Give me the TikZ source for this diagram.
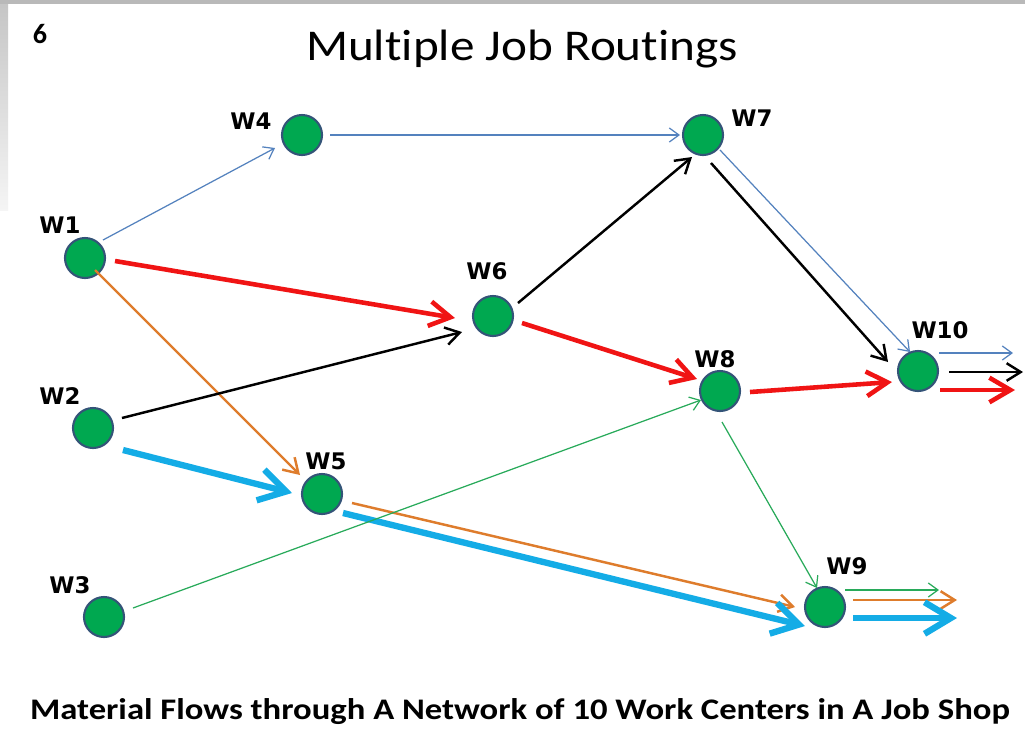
\documentclass[tikz,border=0pt]{standalone}
\usepackage{fontspec}
\setmainfont[Ligatures=NoCommon]{Carlito}
\newfontfamily\wcfont{DejaVu Sans}
\usetikzlibrary{arrows.meta,positioning}

\definecolor{wcgreen}{RGB}{0,168,80}
\definecolor{wcborder}{RGB}{52,84,120}
\definecolor{jobblue}{RGB}{84,130,190}
\definecolor{jobred}{RGB}{240,20,20}
\definecolor{joborange}{RGB}{222,124,44}
\definecolor{jobcyan}{RGB}{20,172,230}
\definecolor{jobgreen}{RGB}{40,170,90}

\tikzstyle{wc} = [circle, draw=wcborder, fill=wcgreen, line width=1.2pt, minimum size=0.8cm, inner sep=0pt]
\tikzstyle{wclabel} = [font=\wcfont\bfseries\fontsize{13}{15}\selectfont, inner sep=0pt]
\tikzstyle{bluejob} = [draw=jobblue, line width=0.7pt, -{Straight Barb[length=5.5pt,width=8pt]}]
\tikzstyle{greenjob} = [draw=jobgreen, line width=0.7pt, -{Straight Barb[length=5.5pt,width=8pt]}]
\tikzstyle{blackjob} = [draw=black, line width=1.4pt, -{Straight Barb[length=8pt,width=10pt]}]
\tikzstyle{orangejob} = [draw=joborange, line width=1.4pt, -{Straight Barb[length=8pt,width=10pt]}]
\tikzstyle{redjob} = [draw=jobred, line width=2.6pt, -{Straight Barb[length=12pt,width=14pt]}]
\tikzstyle{cyanjob} = [draw=jobcyan, line width=3.6pt, -{Straight Barb[length=15pt,width=18pt]}]

\begin{document}
\begin{tikzpicture}[x=0.02cm, y=-0.02cm]
		% Slide frame
		\useasboundingbox (0,0) rectangle (1025,728);
		\fill[white] (0,0) rectangle (1025,728);
		\fill[gray!55] (0,0) rectangle (1025,4);
		\shade[top color=gray!45, bottom color=gray!8] (0,4) rectangle (8,210);
		% Headings
		\node[font=\bfseries\fontsize{16}{18}\selectfont] (num) at (40,34) {6};
		\node[anchor=base, xscale=1.12, font=\fontsize{25}{30}\selectfont] (title) at (522,60) {Multiple Job Routings};
		\node[anchor=base, xscale=1.16, font=\bfseries\fontsize{17}{20}\selectfont] (caption) at (520,719) {Material Flows through A Network of 10 Work Centers in A Job Shop};
		% Nodes
		\node[wc] (W1) at (85,258) {};
		\node[wc] (W2) at (93,428) {};
		\node[wc] (W3) at (104,617) {};
		\node[wc] (W4) at (302,135) {};
		\node[wc] (W5) at (322,494) {};
		\node[wc] (W6) at (493,316) {};
		\node[wc] (W7) at (703,135) {};
		\node[wc] (W8) at (720,391) {};
		\node[wc] (W9) at (825,607) {};
		\node[wc] (W10) at (918,371) {};
		% Labels
		\node[wclabel] (L1) at ([shift={(-25,-33)}]W1.center) {W1};
		\node[wclabel] (L2) at ([shift={(-33,-32)}]W2.center) {W2};
		\node[wclabel] (L3) at ([shift={(-34,-32)}]W3.center) {W3};
		\node[wclabel] (L4) at ([shift={(-51,-14)}]W4.center) {W4};
		\node[wclabel] (L5) at ([shift={(4,-33)}]W5.center) {W5};
		\node[wclabel] (L6) at ([shift={(-6,-45)}]W6.center) {W6};
		\node[wclabel] (L7) at ([shift={(49,-17)}]W7.center) {W7};
		\node[wclabel] (L8) at ([shift={(-5,-32)}]W8.center) {W8};
		\node[wclabel] (L9) at ([shift={(22,-41)}]W9.center) {W9};
		\node[wclabel] (L10) at ([shift={(22,-41)}]W10.center) {W10};
		% Exits
		\coordinate (X10a) at ([shift={(95,-18)}]W10.center);
		\coordinate (X10b) at ([shift={(105,1)}]W10.center);
		\coordinate (X10c) at ([shift={(97,19)}]W10.center);
		\coordinate (X9a) at ([shift={(114,-17)}]W9.center);
		\coordinate (X9b) at ([shift={(132,-7)}]W9.center);
		\coordinate (X9c) at ([shift={(132,11)}]W9.center);
		%Arrows
		\path
		([shift={(18,-18)}]W1.center) edge [bluejob] ([shift={(-27,13)}]W4.center)
		([shift={(28,0)}]W4.center) edge [bluejob] ([shift={(-23,0)}]W7.center)
		([shift={(17,15)}]W7.center) edge [bluejob] ([shift={(-8,-19)}]W10.center)
		([shift={(21,-18)}]W10.center) edge [bluejob] (X10a)
		([shift={(30,3)}]W1.center) edge [redjob] ([shift={(-38,2)}]W6.center)
		([shift={(29,7)}]W6.center) edge [redjob] ([shift={(-23,-12)}]W8.center)
		([shift={(30,1)}]W8.center) edge [redjob] ([shift={(-26,11)}]W10.center)
		([shift={(22,19)}]W10.center) edge [redjob] (X10c)
		([shift={(10,12)}]W1.center) edge [orangejob] ([shift={(-22,-19)}]W5.center)
		([shift={(30,9)}]W5.center) edge [orangejob] ([shift={(-30,0)}]W9.center)
		([shift={(28,-7)}]W9.center) edge [orangejob] (X9b)
		([shift={(29,-10)}]W2.center) edge [blackjob] ([shift={(-31,16)}]W6.center)
		([shift={(25,-13)}]W6.center) edge [blackjob] ([shift={(-11,22)}]W7.center)
		([shift={(8,28)}]W7.center) edge [blackjob] ([shift={(-30,-9)}]W10.center)
		([shift={(31,1)}]W10.center) edge [blackjob] (X10b)
		([shift={(30,22)}]W2.center) edge [cyanjob] ([shift={(-30,-1)}]W5.center)
		([shift={(21,19)}]W5.center) edge [cyanjob] ([shift={(-20,19)}]W9.center)
		([shift={(28,11)}]W9.center) edge [cyanjob] (X9c)
		([shift={(29,-9)}]W3.center) edge [greenjob] ([shift={(-19,9)}]W8.center)
		([shift={(2,31)}]W8.center) edge [greenjob] ([shift={(-8,-19)}]W9.center)
		([shift={(20,-17)}]W9.center) edge [greenjob] (X9a)
		;
	\end{tikzpicture}
\end{document}
